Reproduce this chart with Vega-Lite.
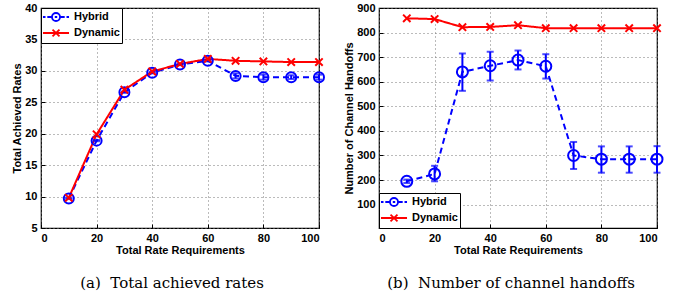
{
  "$schema": "https://vega.github.io/schema/vega-lite/v6.json",
  "padding": {"left": 11, "top": 1, "right": 5, "bottom": 0},
  "spacing": 14,
  "background": "white",
  "datasets": {
    "rates": [
      {"x": 10, "series": "Hybrid", "y": 9.7, "lo": 9.6, "hi": 9.8},
      {"x": 20, "series": "Hybrid", "y": 18.9, "lo": 18.8, "hi": 19.0},
      {"x": 30, "series": "Hybrid", "y": 26.6, "lo": 26.5, "hi": 26.7},
      {"x": 40, "series": "Hybrid", "y": 29.7, "lo": 29.6, "hi": 29.8},
      {"x": 50, "series": "Hybrid", "y": 31.0, "lo": 30.9, "hi": 31.1},
      {"x": 60, "series": "Hybrid", "y": 31.6, "lo": 31.5, "hi": 31.7},
      {"x": 70, "series": "Hybrid", "y": 29.2, "lo": 28.8, "hi": 29.6},
      {"x": 80, "series": "Hybrid", "y": 29.0, "lo": 28.6, "hi": 29.4},
      {"x": 90, "series": "Hybrid", "y": 29.0, "lo": 28.7, "hi": 29.3},
      {"x": 100, "series": "Hybrid", "y": 29.0, "lo": 28.6, "hi": 29.4},
      {"x": 10, "series": "Dynamic", "y": 9.8},
      {"x": 20, "series": "Dynamic", "y": 19.9},
      {"x": 30, "series": "Dynamic", "y": 27.0},
      {"x": 40, "series": "Dynamic", "y": 29.9},
      {"x": 50, "series": "Dynamic", "y": 31.1},
      {"x": 60, "series": "Dynamic", "y": 31.9},
      {"x": 70, "series": "Dynamic", "y": 31.6},
      {"x": 80, "series": "Dynamic", "y": 31.5},
      {"x": 90, "series": "Dynamic", "y": 31.4},
      {"x": 100, "series": "Dynamic", "y": 31.4}
    ],
    "handoffs": [
      {"x": 10, "series": "Hybrid", "y": 195, "lo": 188, "hi": 202},
      {"x": 20, "series": "Hybrid", "y": 225, "lo": 195, "hi": 258},
      {"x": 30, "series": "Hybrid", "y": 640, "lo": 563, "hi": 715},
      {"x": 40, "series": "Hybrid", "y": 665, "lo": 605, "hi": 722},
      {"x": 50, "series": "Hybrid", "y": 688, "lo": 650, "hi": 727},
      {"x": 60, "series": "Hybrid", "y": 663, "lo": 613, "hi": 712},
      {"x": 70, "series": "Hybrid", "y": 300, "lo": 245, "hi": 355},
      {"x": 80, "series": "Hybrid", "y": 285, "lo": 230, "hi": 337},
      {"x": 90, "series": "Hybrid", "y": 285, "lo": 230, "hi": 337},
      {"x": 100, "series": "Hybrid", "y": 285, "lo": 230, "hi": 338},
      {"x": 10, "series": "Dynamic", "y": 858},
      {"x": 20, "series": "Dynamic", "y": 855},
      {"x": 30, "series": "Dynamic", "y": 822},
      {"x": 40, "series": "Dynamic", "y": 823},
      {"x": 50, "series": "Dynamic", "y": 830},
      {"x": 60, "series": "Dynamic", "y": 818},
      {"x": 70, "series": "Dynamic", "y": 818},
      {"x": 80, "series": "Dynamic", "y": 818},
      {"x": 90, "series": "Dynamic", "y": 818},
      {"x": 100, "series": "Dynamic", "y": 818}
    ]
  },
  "config": {
    "view": {"stroke": "black", "strokeWidth": 1.2},
    "axis": {
      "labelFont": "Liberation Sans", "labelFontWeight": "bold", "labelFontSize": 11, "labelColor": "black",
      "titleFont": "Liberation Sans", "titleFontWeight": "bold", "titleFontSize": 11, "titleColor": "black",
      "grid": true, "gridDash": [1, 3], "gridColor": "#777", "gridWidth": 1,
      "domain": false, "ticks": true, "tickSize": -4, "tickColor": "black", "tickWidth": 1, "labelPadding": 8
    },
    "legend": {
      "labelFont": "Liberation Sans", "labelFontWeight": "bold", "labelFontSize": 11, "labelColor": "black"
    },
    "title": {"font": "DejaVu Serif", "fontSize": 15, "fontWeight": "normal", "color": "black", "orient": "bottom", "anchor": "middle"}
  },
  "hconcat": [
    {
      "width": 278,
      "height": 220,
      "title": {"text": "(a)\u00a0\u00a0Total achieved rates", "dx": -8, "offset": 21},
      "data": {"name": "rates"},
      "encoding": {
        "x": {"field": "x", "type": "quantitative", "scale": {"domain": [0, 100], "nice": false},
              "axis": {"values": [0, 20, 40, 60, 80, 100], "title": "Total Rate Requirements", "titlePadding": 1}},
        "y": {"field": "y", "type": "quantitative", "scale": {"domain": [5, 40], "nice": false, "zero": false},
              "axis": {"values": [5, 10, 15, 20, 25, 30, 35, 40], "title": "Total Achieved Rates", "titlePadding": 2}}
      },
      "layer": [
        {
          "mark": {"type": "line", "strokeWidth": 2},
          "encoding": {
            "color": {"field": "series", "type": "nominal",
              "scale": {"domain": ["Hybrid", "Dynamic"], "range": ["#0000ff", "#ff0000"]},
              "legend": {"orient": "top-left", "offset": 0, "title": null, "strokeColor": "black", "fillColor": "white",
                "padding": 2, "symbolSize": 144, "labelOffset": 17, "rowPadding": 0, "symbolStrokeWidth": 1.8,
                "encode": {"symbols": {"update": {
                  "shape": {"signal": "datum.value === 'Hybrid' ? 'M-1.17,0H-0.75M-0.45,0H0.2M1.8,0H2.45M2.75,0H3.17M0.33,0A0.67,0.67,0,1,1,1.67,0A0.67,0.67,0,1,1,0.33,0M0.8,0H1.2' : 'M-1.17,0H3.17M0.42,-0.58L1.58,0.58M0.42,0.58L1.58,-0.58'"},
                  "strokeDash": {"value": []}
                }}}}},
            "strokeDash": {"field": "series", "type": "nominal",
              "scale": {"domain": ["Hybrid", "Dynamic"], "range": [[6, 4], [1, 0]]}, "legend": null}
          }
        },
        {
          "transform": [{"filter": "datum.series === 'Hybrid'"}],
          "mark": {"type": "rule", "color": "#0000ff", "strokeWidth": 2},
          "encoding": {"y": {"field": "lo", "type": "quantitative"}, "y2": {"field": "hi"}}
        },
        {
          "transform": [{"filter": "datum.series === 'Hybrid'"}],
          "mark": {"type": "tick", "orient": "horizontal", "color": "#0000ff", "size": 7, "thickness": 2},
          "encoding": {"y": {"field": "lo", "type": "quantitative"}}
        },
        {
          "transform": [{"filter": "datum.series === 'Hybrid'"}],
          "mark": {"type": "tick", "orient": "horizontal", "color": "#0000ff", "size": 7, "thickness": 2},
          "encoding": {"y": {"field": "hi", "type": "quantitative"}}
        },
        {
          "transform": [{"filter": "datum.series === 'Hybrid'"}],
          "mark": {"type": "point", "shape": "circle", "filled": false, "color": "#0000ff", "size": 100, "strokeWidth": 2, "opacity": 1}
        },
        {
          "transform": [{"filter": "datum.series === 'Dynamic'"}],
          "mark": {"type": "point", "shape": "M-1,-1L1,1M-1,1L1,-1", "filled": false, "color": "#ff0000", "size": 55, "strokeWidth": 2, "opacity": 1}
        }
      ]
    },
    {
      "width": 278,
      "height": 220,
      "title": {"text": "(b)\u00a0\u00a0Number of channel handoffs", "dx": -7, "offset": 21},
      "data": {"name": "handoffs"},
      "encoding": {
        "x": {"field": "x", "type": "quantitative", "scale": {"domain": [0, 100], "nice": false},
              "axis": {"values": [0, 20, 40, 60, 80, 100], "title": "Total Rate Requirements", "titlePadding": 1}},
        "y": {"field": "y", "type": "quantitative", "scale": {"domain": [5, 900], "nice": false, "zero": false},
              "axis": {"values": [100, 200, 300, 400, 500, 600, 700, 800, 900], "title": "Number of Channel Handoffs", "titlePadding": 2}}
      },
      "layer": [
        {
          "mark": {"type": "line", "strokeWidth": 2},
          "encoding": {
            "color": {"field": "series", "type": "nominal",
              "scale": {"domain": ["Hybrid", "Dynamic"], "range": ["#0000ff", "#ff0000"]},
              "legend": {"orient": "bottom-left", "offset": 0, "title": null, "strokeColor": "black", "fillColor": "white",
                "padding": 2, "symbolSize": 144, "labelOffset": 17, "rowPadding": 0, "symbolStrokeWidth": 1.8,
                "encode": {"symbols": {"update": {
                  "shape": {"signal": "datum.value === 'Hybrid' ? 'M-1.17,0H-0.75M-0.45,0H0.2M1.8,0H2.45M2.75,0H3.17M0.33,0A0.67,0.67,0,1,1,1.67,0A0.67,0.67,0,1,1,0.33,0M0.8,0H1.2' : 'M-1.17,0H3.17M0.42,-0.58L1.58,0.58M0.42,0.58L1.58,-0.58'"},
                  "strokeDash": {"value": []}
                }}}}},
            "strokeDash": {"field": "series", "type": "nominal",
              "scale": {"domain": ["Hybrid", "Dynamic"], "range": [[6, 4], [1, 0]]}, "legend": null}
          }
        },
        {
          "transform": [{"filter": "datum.series === 'Hybrid'"}],
          "mark": {"type": "rule", "color": "#0000ff", "strokeWidth": 2},
          "encoding": {"y": {"field": "lo", "type": "quantitative"}, "y2": {"field": "hi"}}
        },
        {
          "transform": [{"filter": "datum.series === 'Hybrid'"}],
          "mark": {"type": "tick", "orient": "horizontal", "color": "#0000ff", "size": 7, "thickness": 2},
          "encoding": {"y": {"field": "lo", "type": "quantitative"}}
        },
        {
          "transform": [{"filter": "datum.series === 'Hybrid'"}],
          "mark": {"type": "tick", "orient": "horizontal", "color": "#0000ff", "size": 7, "thickness": 2},
          "encoding": {"y": {"field": "hi", "type": "quantitative"}}
        },
        {
          "transform": [{"filter": "datum.series === 'Hybrid'"}],
          "mark": {"type": "point", "shape": "circle", "filled": false, "color": "#0000ff", "size": 121, "strokeWidth": 2, "opacity": 1}
        },
        {
          "transform": [{"filter": "datum.series === 'Dynamic'"}],
          "mark": {"type": "point", "shape": "M-1,-1L1,1M-1,1L1,-1", "filled": false, "color": "#ff0000", "size": 55, "strokeWidth": 2, "opacity": 1}
        }
      ]
    }
  ]
}
